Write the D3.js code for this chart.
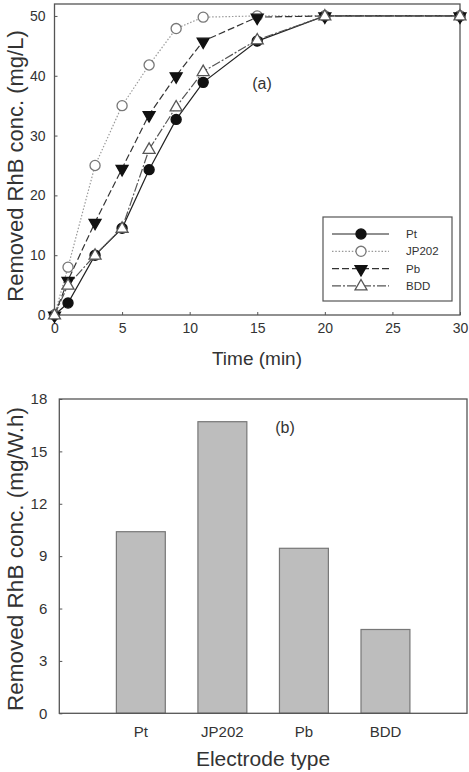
<!DOCTYPE html>
<html>
<head>
<meta charset="utf-8">
<script src="https://cdn.jsdelivr.net/npm/d3@7/dist/d3.min.js"></script>
<style>
  html, body { margin: 0; padding: 0; background: #fff; }
  svg { display: block; }
  text { font-family: "Liberation Sans", Arial, sans-serif; fill: #333; }
</style>
</head>
<body>
<svg id="chart" width="469" height="772"></svg>
<script>
// ---------- Data ----------
const times = [0, 1, 3, 5, 7, 9, 11, 15, 20, 30];
const ptValues    = [0, 2, 10, 14.5, 24.3, 32.7, 38.9, 45.8, 50, 50];
const jp202Values = [0, 8, 25, 35, 41.8, 47.9, 49.8, 50, 50, 50];
const pbValues    = [0, 5.8, 15.5, 24.5, 33.5, 40, 45.8, 49.8, 50, 50];
const bddValues   = [0, 5, 10, 14.5, 27.7, 34.8, 40.7, 46, 50, 50];
const seriesNames = ["Pt", "JP202", "Pb", "BDD"];

const xTicksA = [0, 5, 10, 15, 20, 25, 30];
const yTicksA = [0, 10, 20, 30, 40, 50];

const electrodes = ["Pt", "JP202", "Pb", "BDD"];
const energyValues = [10.4, 16.7, 9.45, 4.8];
const yTicksB = [0, 3, 6, 9, 12, 15, 18];

// ---------- Setup ----------
const svg = d3.select("#chart");
const frameColor = "#555";

// ===== Panel (a) =====
const ax = d3.scaleLinear().domain([0, 30]).range([54.5, 460]);
const ay = d3.scaleLinear().domain([0, 52]).range([315, 4]);

const gA = svg.append("g");
gA.append("rect")
  .attr("x", ax(0)).attr("y", ay(52))
  .attr("width", ax(30) - ax(0)).attr("height", ay(0) - ay(52))
  .attr("fill", "none").attr("stroke", frameColor).attr("stroke-width", 1.3);

const xAxisA = d3.axisBottom(ax).tickValues(xTicksA).tickSizeInner(-3).tickSizeOuter(0).tickPadding(8);
const gxA = gA.append("g").attr("transform", `translate(0,${ay(0)})`).call(xAxisA);
gxA.select(".domain").remove();
gxA.selectAll("line").attr("stroke", frameColor);
gxA.selectAll("text").attr("font-size", 14).attr("fill", "#333").attr("font-family", "Liberation Sans, Arial, sans-serif");

const yAxisA = d3.axisLeft(ay).tickValues(yTicksA).tickSizeInner(-3).tickSizeOuter(0).tickPadding(9);
const gyA = gA.append("g").attr("transform", `translate(${ax(0)},0)`).call(yAxisA);
gyA.select(".domain").remove();
gyA.selectAll("line").attr("stroke", frameColor);
gyA.selectAll("text").attr("font-size", 14).attr("fill", "#333").attr("font-family", "Liberation Sans, Arial, sans-serif");

gA.append("text").attr("x", 257).attr("y", 365).attr("text-anchor", "middle")
  .attr("font-size", 19).text("Time (min)");
gA.append("text").attr("transform", `translate(23,166) rotate(-90)`).attr("text-anchor", "middle")
  .attr("font-size", 22).text("Removed RhB conc. (mg/L)");
gA.append("text").attr("x", 262).attr("y", 89).attr("text-anchor", "middle")
  .attr("font-size", 16).text("(a)");

const seriesStyles = {
  "Pt":    { values: ptValues,    stroke: "#222", dash: null,       marker: "circle",   fill: "#111", mstroke: "#111" },
  "JP202": { values: jp202Values, stroke: "#999", dash: "1.5,1.8",  marker: "circle",   fill: "#fff", mstroke: "#777" },
  "Pb":    { values: pbValues,    stroke: "#333", dash: "7,3",      marker: "triDown",  fill: "#111", mstroke: "#111" },
  "BDD":   { values: bddValues,   stroke: "#555", dash: "9,2,2,2",  marker: "triUp",    fill: "#fff", mstroke: "#555" }
};

const symbolFor = m => m === "circle" ? d3.symbolCircle : d3.symbolTriangle;
const symbolSize = m => m === "circle" ? 80 : 62;

const line = d3.line().x(d => ax(d[0])).y(d => ay(d[1]));

function drawMarker(g, x, y, st) {
  const p = g.append("path")
    .attr("d", d3.symbol().type(symbolFor(st.marker)).size(symbolSize(st.marker))())
    .attr("fill", st.fill).attr("stroke", st.mstroke).attr("stroke-width", 1.3);
  if (st.marker === "triDown") p.attr("transform", `translate(${x},${y + 0.5}) rotate(180)`);
  else if (st.marker === "triUp") p.attr("transform", `translate(${x},${y + 0.5})`);
  else p.attr("transform", `translate(${x},${y})`);
}

seriesNames.forEach(name => {
  const st = seriesStyles[name];
  const pts = times.map((t, i) => [t, st.values[i]]);
  gA.append("path").datum(pts).attr("d", line)
    .attr("fill", "none").attr("stroke", st.stroke).attr("stroke-width", 1.2)
    .attr("stroke-dasharray", st.dash);
});
seriesNames.forEach(name => {
  const st = seriesStyles[name];
  times.forEach((t, i) => drawMarker(gA, ax(t), ay(st.values[i]), st));
});

// legend
const leg = gA.append("g");
leg.append("rect").attr("x", 323).attr("y", 217).attr("width", 129).attr("height", 84)
  .attr("fill", "#fff").attr("stroke", frameColor).attr("stroke-width", 1.2);
seriesNames.forEach((name, i) => {
  const st = seriesStyles[name];
  const yy = 234 + i * 17.3;
  leg.append("line").attr("x1", 332).attr("x2", 389).attr("y1", yy).attr("y2", yy)
    .attr("stroke", st.stroke).attr("stroke-width", 1.2).attr("stroke-dasharray", st.dash);
  drawMarker(leg, 361, yy, st);
  leg.append("text").attr("x", 406).attr("y", yy + 4).attr("font-size", 11.5).text(name);
});

// ===== Panel (b) =====
const bx = d3.scaleBand().domain(electrodes).range([59.3, 467]).paddingInner(0.4).paddingOuter(0.7);
const by = d3.scaleLinear().domain([0, 18]).range([713.3, 399]);

const gB = svg.append("g");
gB.selectAll("rect.bar").data(electrodes).join("rect").attr("class", "bar")
  .attr("x", d => bx(d)).attr("width", bx.bandwidth())
  .attr("y", (d, i) => by(energyValues[i])).attr("height", (d, i) => by(0) - by(energyValues[i]))
  .attr("fill", "#bdbdbd").attr("stroke", "#777").attr("stroke-width", 1.2);

gB.append("rect")
  .attr("x", 59.3).attr("y", by(18))
  .attr("width", 467 - 59.3).attr("height", by(0) - by(18))
  .attr("fill", "none").attr("stroke", frameColor).attr("stroke-width", 1.3);

const yAxisB = d3.axisLeft(by).tickValues(yTicksB).tickSizeInner(-3).tickSizeOuter(0).tickPadding(12);
const gyB = gB.append("g").attr("transform", `translate(59.3,0)`).call(yAxisB);
gyB.select(".domain").remove();
gyB.selectAll("line").attr("stroke", frameColor);
gyB.selectAll("text").attr("font-size", 15).attr("fill", "#333").attr("font-family", "Liberation Sans, Arial, sans-serif");

const xAxisB = d3.axisBottom(bx).tickSize(0).tickPadding(13);
const gxB = gB.append("g").attr("transform", `translate(0,${by(0)})`).call(xAxisB);
gxB.select(".domain").remove();
gxB.selectAll("text").attr("font-size", 15).attr("fill", "#333").attr("font-family", "Liberation Sans, Arial, sans-serif");

gB.append("text").attr("x", 263).attr("y", 766).attr("text-anchor", "middle")
  .attr("font-size", 21).text("Electrode type");
gB.append("text").attr("transform", `translate(23,559) rotate(-90)`).attr("text-anchor", "middle")
  .attr("font-size", 22.5).text("Removed RhB conc. (mg/W.h)");
gB.append("text").attr("x", 285).attr("y", 433).attr("text-anchor", "middle")
  .attr("font-size", 16).text("(b)");
</script>
</body>
</html>
